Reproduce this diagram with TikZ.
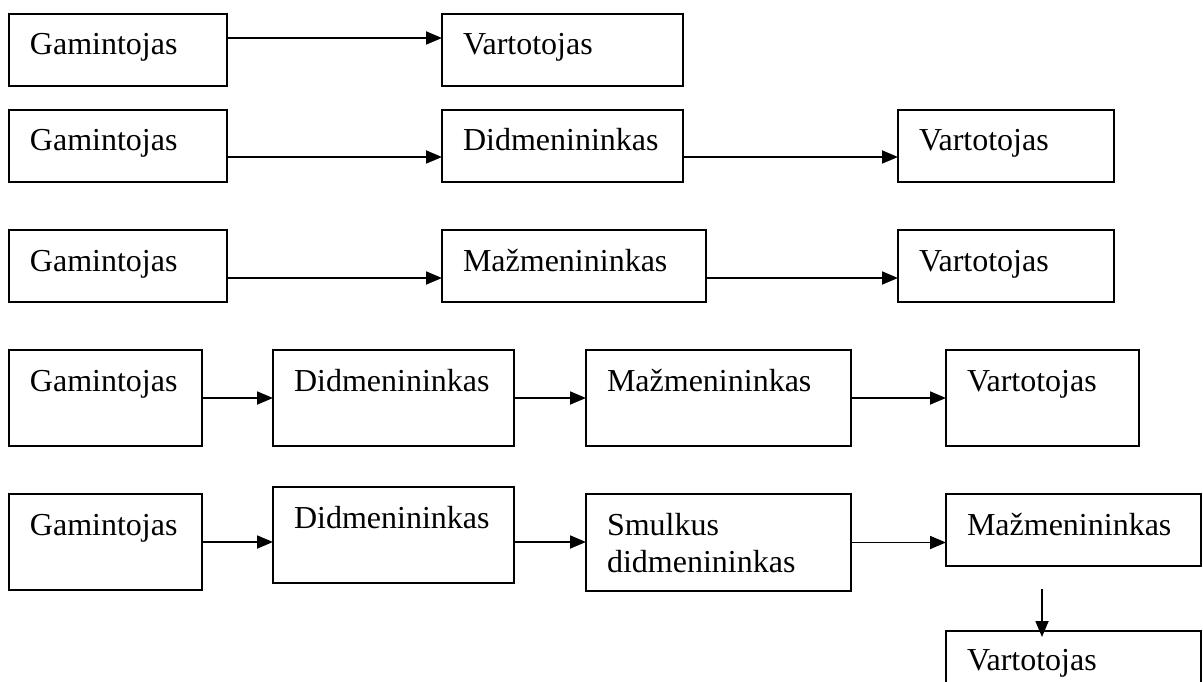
\documentclass[tikz,border=0pt]{standalone}
\usepackage{fontspec}
\setmainfont{Liberation Serif}
\usetikzlibrary{arrows.meta}

% a framed box given by its corners (x1,y1)-(x2,y2), y counted downwards
\newcommand{\flowbox}[5]{%
  \node[box, minimum width={(#4-#2)*1pt}, minimum height={(#5-#3)*1pt}] (#1) at (#2,#3) {};}
% box caption, left aligned, baseline #1 below the top edge
\newcommand{\boxcaption}[3][41]{%
  \node[lbl] (#2t) at ([shift={(21pt,-#1pt)}]#2.north west) {#3};}

\begin{document}
\begin{tikzpicture}[x=1pt, y=-1pt,
  box/.style={draw=black, line width=2.2pt, inner sep=0pt, outer sep=0pt, anchor=north west},
  lbl/.style={inner sep=0pt, outer sep=0pt, anchor=base west, font=\fontsize{32}{37}\selectfont},
  arr/.style={draw=black, line width=1.8pt, -{Triangle[length=16pt, width=13pt]}}]

\fill[white] (0,0) rectangle (1203,682);
\useasboundingbox (0,0) rectangle (1203,682);

% row 1
\flowbox{g1}{9}{14}{227}{86}
\flowbox{v1}{442}{14}{683}{86}
\boxcaption{g1}{Gamintojas}
\boxcaption{v1}{Vartotojas}
\draw[arr] ([yshift=12pt]g1.east) -- ([yshift=12pt]g1.east -| v1.west);

% row 2
\flowbox{g2}{9}{110}{227}{182}
\flowbox{d2}{442}{110}{683}{182}
\flowbox{v2}{898}{110}{1114}{182}
\boxcaption{g2}{Gamintojas}
\boxcaption{d2}{Didmenininkas}
\boxcaption{v2}{Vartotojas}
\draw[arr] ([yshift=-11pt]g2.east) -- ([yshift=-11pt]g2.east -| d2.west);
\draw[arr] ([yshift=-11pt]d2.east) -- ([yshift=-11pt]d2.east -| v2.west);

% row 3
\flowbox{g3}{9}{230}{227}{302}
\flowbox{m3}{442}{230}{706}{302}
\flowbox{v3}{898}{230}{1114}{302}
\boxcaption{g3}{Gamintojas}
\boxcaption{m3}{Mažmenininkas}
\boxcaption{v3}{Vartotojas}
\draw[arr] ([yshift=-12pt]g3.east) -- ([yshift=-12pt]g3.east -| m3.west);
\draw[arr] ([yshift=-12pt]m3.east) -- ([yshift=-12pt]m3.east -| v3.west);

% row 4
\flowbox{g4}{9}{350}{202}{446}
\flowbox{d4}{273}{350}{514}{446}
\flowbox{m4}{586}{350}{851}{446}
\flowbox{v4}{946}{350}{1139}{446}
\boxcaption{g4}{Gamintojas}
\boxcaption{d4}{Didmenininkas}
\boxcaption{m4}{Mažmenininkas}
\boxcaption{v4}{Vartotojas}
\draw[arr] (g4.east) -- (d4.west);
\draw[arr] (d4.east) -- (m4.west);
\draw[arr] (m4.east) -- (v4.west);

% row 5
\flowbox{g5}{9}{494}{202}{590}
\flowbox{d5}{273}{487}{514}{583}
\flowbox{s5}{586}{494}{851}{591}
\flowbox{m5}{946}{494}{1201}{566}
\flowbox{v5}{946}{631}{1201}{710}
\boxcaption{g5}{Gamintojas}
\boxcaption{d5}{Didmenininkas}
\node[lbl, text width=240pt, align=left] (s5t) at ([shift={(21pt,-41pt)}]s5.north west) {Smulkus\\didmenininkas};
\boxcaption{m5}{Mažmenininkas}
\boxcaption[39]{v5}{Vartotojas}
\draw[arr] (g5.east) -- (g5.east -| d5.west);
\draw[arr] ([yshift=-7pt]d5.east) -- ([yshift=-7pt]d5.east -| s5.west);
\draw[arr] (s5.east) -- (s5.east -| m5.west);
\coordinate (down) at ([xshift=-31.5pt, yshift=-23pt]m5.south);
\draw[arr] (down) -- ([yshift=-6pt]down |- v5.north);

\end{tikzpicture}
\end{document}
